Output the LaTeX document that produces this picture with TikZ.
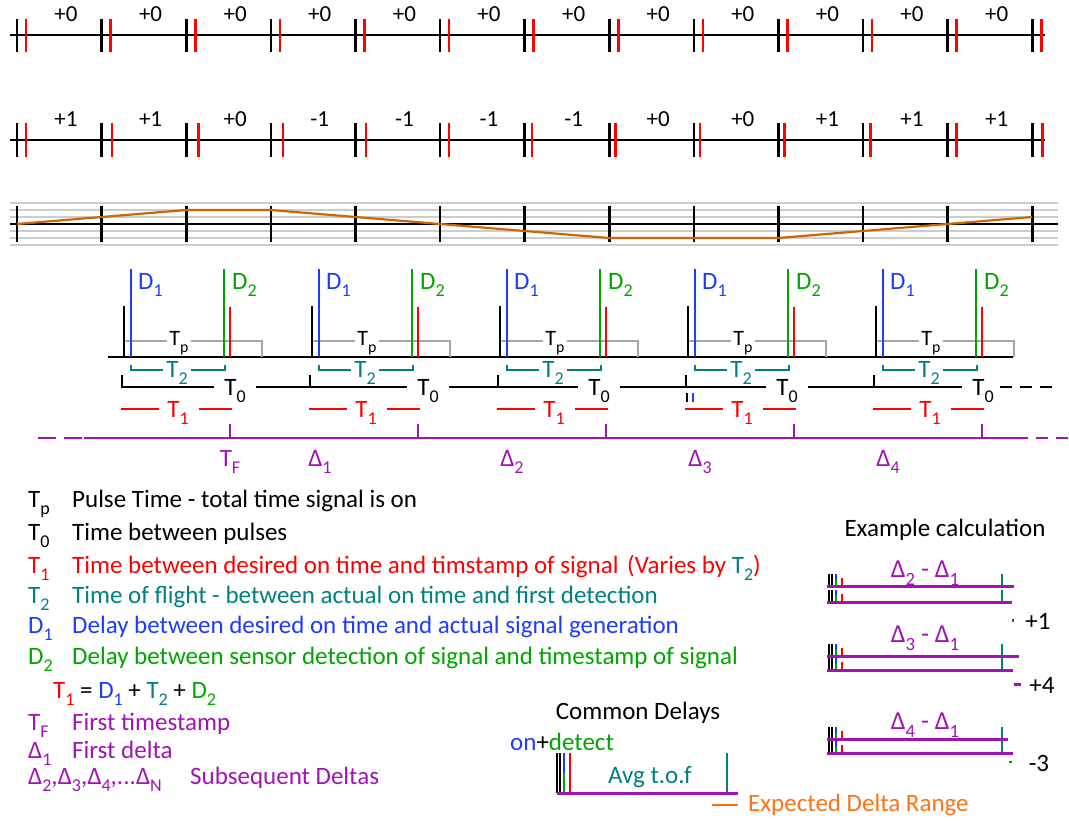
\documentclass[tikz,border=0pt]{standalone}
\usepackage{fontspec}
\setmainfont{Carlito}
\usetikzlibrary{positioning, calc}
\definecolor{tofteal}{RGB}{0,128,128}
\definecolor{delpurple}{RGB}{160,20,180}
\definecolor{sensgreen}{RGB}{0,165,0}
\definecolor{onblue}{RGB}{30,60,255}
\definecolor{driftorange}{RGB}{204,102,0}
\definecolor{rangeorange}{RGB}{255,115,20}
\newcommand{\fs}[1]{\fontsize{#1}{#1}\selectfont}
\newcommand{\lowsub}[1]{\raisebox{-0.3em}{\scalebox{0.72}{#1}}}
% two black, blue/green, red marks standing on a bar
\newcommand{\delaymarks}[4]{%
  \draw[mk] (#1,#2) -- ++(0,-#3);
  \draw[mk] (#1+3,#2) -- ++(0,-#3);
  \draw[mk,onblue] (#1+7,#2-#3) -- ++(0,#3/2);
  \draw[mk,sensgreen] (#1+7,#2) -- ++(0,-#3/2);
  \draw[mk,red] (#1+13,#2) -- ++(0,-#4);
}
\tikzset{
  base/.style   ={line width=2pt},
  tk/.style     ={line width=2.6pt},
  gridln/.style ={line width=2pt, gray!40},
  drift/.style  ={line width=2.2pt, driftorange},
  pl/.style     ={line width=2pt},
  mk/.style     ={line width=2pt},
  dline/.style  ={line width=2.2pt, delpurple},
  bar/.style    ={line width=3pt, delpurple},
  num/.style    ={font=\fs{23}, inner sep=0pt},
  lbl/.style    ={font=\fs{25}, inner sep=0pt},
  legend/.style ={font=\fs{25}, anchor=base west, inner sep=0pt},
}

\begin{document}
\begin{tikzpicture}[x=1pt,y=-1pt]
  \useasboundingbox (0,0) rectangle (1069,821);

  % ideal timestamps
  \draw[base] (10,35) -- (1045,35);
  \foreach \i in {0,...,12}{
    \draw[tk] ({17+84.6*\i},19) -- ++(0,33);
    \draw[tk,red] ({26+84.6*\i},19) -- ++(0,33);
  }
  \foreach \i in {0,...,11} \node[num] (ideal\i) at ({66+84.6*\i},14) {+0};

  % drifting timestamps
  \draw[base] (10,140) -- (1045,140);
  \foreach \c [count=\i from 0] in {0,1,2,2,1,0,-1,-2,-2,-2,-1,0,1}{
    \draw[tk] ({17+84.6*\i},123) -- ++(0,34);
    \draw[tk,red] ({26+84.6*\i+1.5*\c},123) -- ++(0,34);
  }
  \foreach \v [count=\i from 0] in {+1,+1,+0,-1,-1,-1,-1,+0,+0,+1,+1,+1}
    \node[num] (drift\i) at ({66+84.6*\i},119) {\v};

  % accumulated drift
  \foreach \y in {203,210,217,231,238,245} \draw[gridln] (10,\y) -- (1058,\y);
  \draw[base] (10,224) -- (1058,224);
  \foreach \i in {0,...,12} \draw[tk] ({17+84.6*\i},206) -- ++(0,36);
  \draw[drift] (17,224) -- (101.6,217) -- (186.2,210) -- (270.8,210) -- (355.4,217)
    -- (440,224) -- (524.6,231) -- (609.2,238) -- (693.8,238) -- (778.4,238)
    -- (863,231) -- (947.6,224) -- (1032.2,217);

  % pulses
  \draw[pl] (108,357) -- (1013,357);
  \foreach \x/\t [count=\g] in {124/235,312/428,500/599,688/787,876/983}{
    \draw[pl,gray!70] (\x,341) -- ({\x+43},341);
    \draw[pl,gray!70] ({\x+67},341) -- ({\x+138},341) -- ({\x+138},357);
    \node[lbl, font=\fs{22}] (tp\g) at ({\x+55},343) {T\lowsub{p}};
    \draw[pl] (\x,306) -- (\x,357);
    \draw[pl,onblue] ({\x+7},269) -- ({\x+7},357);
    \draw[pl,sensgreen] ({\x+100},269) -- ({\x+100},357);
    \draw[pl,red] ({\x+106},307) -- ({\x+106},357);
    \node[lbl, anchor=west, text=onblue] (dI\g) at ({\x+14},285) {D\lowsub{1}};
    \node[lbl, anchor=west, text=sensgreen] (dII\g) at ({\x+108},285) {D\lowsub{2}};
    % time of flight
    \draw[pl,tofteal] ({\x+7},365) -- ({\x+7},370) -- ({\x+39},370);
    \draw[pl,tofteal] ({\x+67},370) -- ({\x+101},370) -- ({\x+101},365);
    \node[lbl, text=tofteal] (tII\g) at ({\x+53},373) {T\lowsub{2}};
    % period
    \draw[pl] ({\x-2},375) -- ({\x-2},387) -- ({\t-21},387);
    \ifnum\g<5 \draw[pl] ({\t+21},387) -- ({\x+185},387); \fi
    \node[lbl] (tO\g) at (\t,391) {T\lowsub{0}};
    % desired on to timestamp
    \draw[pl,red] ({\x-3},409) -- ({\x+35},409);
    \draw[pl,red] ({\x+75},409) -- ({\x+108},409);
    \node[lbl, text=red] (tI\g) at ({\x+54},413) {T\lowsub{1}};
    \draw[dline] ({\x+106},424) -- ({\x+106},438);
  }
  \draw[pl, dash pattern=on 12pt off 8pt] (1000,387) -- (1057,387);
  \draw[mk] (687,393) -- (687,402);
  \draw[mk,onblue] (693,393) -- (693,402);

  % deltas
  \draw[dline, dash pattern=on 18pt off 8pt] (38,438) -- (82,438);
  \draw[dline] (84,438) -- (1028,438);
  \draw[dline, dash pattern=on 12pt off 8pt] (1036,438) -- (1069,438);
  \node[lbl, text=delpurple] (tF) at (230,462) {T\lowsub{F}};
  \foreach \x/\n in {320/1,512/2,700/3,888/4}
    \node[lbl, text=delpurple] (delta\n) at (\x,462) {Δ\lowsub{\n}};

  % legend
  \node[legend] (keyTp) at (28,507) {T\lowsub{p}};
  \node[legend] (txtTp) at (72,507) {Pulse Time - total time signal is on};
  \node[legend] (keyTO) at (28,540) {T\lowsub{0}};
  \node[legend] (txtTO) at (72,540) {Time between pulses};
  \node[legend, text=red] (keyTI) at (28,573) {T\lowsub{1}};
  \node[legend, text=red] (txtTI) at (72,573) {Time between desired on time and timstamp of signal};
  \node[legend, text=red] (varies) at (627,573) {(Varies by \textcolor{tofteal}{T\lowsub{2}})};
  \node[legend, text=tofteal] (keyTII) at (28,603) {T\lowsub{2}};
  \node[legend, text=tofteal] (txtTII) at (72,603) {Time of flight - between actual on time and first detection};
  \node[legend, text=onblue] (keyDI) at (28,633) {D\lowsub{1}};
  \node[legend, text=onblue] (txtDI) at (72,633) {Delay between desired on time and actual signal generation};
  \node[legend, text=sensgreen] (keyDII) at (28,664) {D\lowsub{2}};
  \node[legend, text=sensgreen] (txtDII) at (72,664) {Delay between sensor detection of signal and timestamp of signal};
  \node[legend] (sum) at (53,698) {\textcolor{red}{T\lowsub{1}} = \textcolor{onblue}{D\lowsub{1}} + \textcolor{tofteal}{T\lowsub{2}} + \textcolor{sensgreen}{D\lowsub{2}}};
  \node[legend, text=delpurple] (keyTF) at (28,730) {T\lowsub{F}};
  \node[legend, text=delpurple] (txtTF) at (72,730) {First timestamp};
  \node[legend, text=delpurple] (keyDl) at (28,758) {Δ\lowsub{1}};
  \node[legend, text=delpurple] (txtDl) at (72,758) {First delta};
  \node[legend, text=delpurple] (keyDn) at (28,784) {Δ\lowsub{2},Δ\lowsub{3},Δ\lowsub{4},...Δ\lowsub{N}};
  \node[legend, text=delpurple] (txtDn) at (190,784) {Subsequent Deltas};

  % example calculation
  \node[font=\fs{25}, inner sep=0pt] (example) at (945,530) {Example calculation};
  \foreach \ly/\ya/\yb/\ea/\eb/\k in {573/586/602/1014/1012/2,638/656/670/1019/1013/3,725/739/753/1008/1013/4}{
    \node[font=\fs{26}, inner sep=0pt, text=delpurple] (diff\k) at (925,\ly) {Δ\lowsub{\k} - Δ\lowsub{1}};
    \delaymarks{829}{\ya}{12}{8}
    \delaymarks{829}{\yb}{12}{8}
    \draw[mk,tofteal] (1002,\ya) -- ++(0,-12);
    \draw[mk,tofteal] (1002,\yb) -- ++(0,-12);
    \draw[bar] (827,\ya) -- (\ea,\ya);
    \draw[bar] (827,\yb) -- (\eb,\yb);
  }
  \draw[mk,delpurple] (1013,619) -- (1013,622);
  \node[font=\fs{25}, inner sep=0pt] (resI) at (1038,621) {+1};
  \draw[bar] (1014,684) -- (1021,684);
  \node[font=\fs{25}, inner sep=0pt] (resII) at (1042,685) {+4};
  \draw[mk,sensgreen] (1009,762) -- (1012,762);
  \node[font=\fs{25}, inner sep=0pt] (resIII) at (1039,763) {-3};

  % common delays
  \node[font=\fs{25}, inner sep=0pt] (common) at (638,713) {Common Delays};
  \node[font=\fs{25}, inner sep=0pt, anchor=west] (ondet) at (510,742)
    {\textcolor{onblue}{on}+\textcolor{sensgreen}{detect}};
  \delaymarks{557}{793}{40}{40}
  \draw[mk,tofteal] (727,753) -- (727,793);
  \draw[bar] (557,793) -- (738,793);
  \node[font=\fs{25}, inner sep=0pt, text=tofteal] (avgtof) at (650,777) {Avg t.o.f};
  \draw[line width=2.2pt, rangeorange] (712,805) -- (738,805);
  \node[font=\fs{25}, inner sep=0pt, anchor=west, text=rangeorange] (range) at (748,805) {Expected Delta Range};
\end{tikzpicture}
\end{document}
